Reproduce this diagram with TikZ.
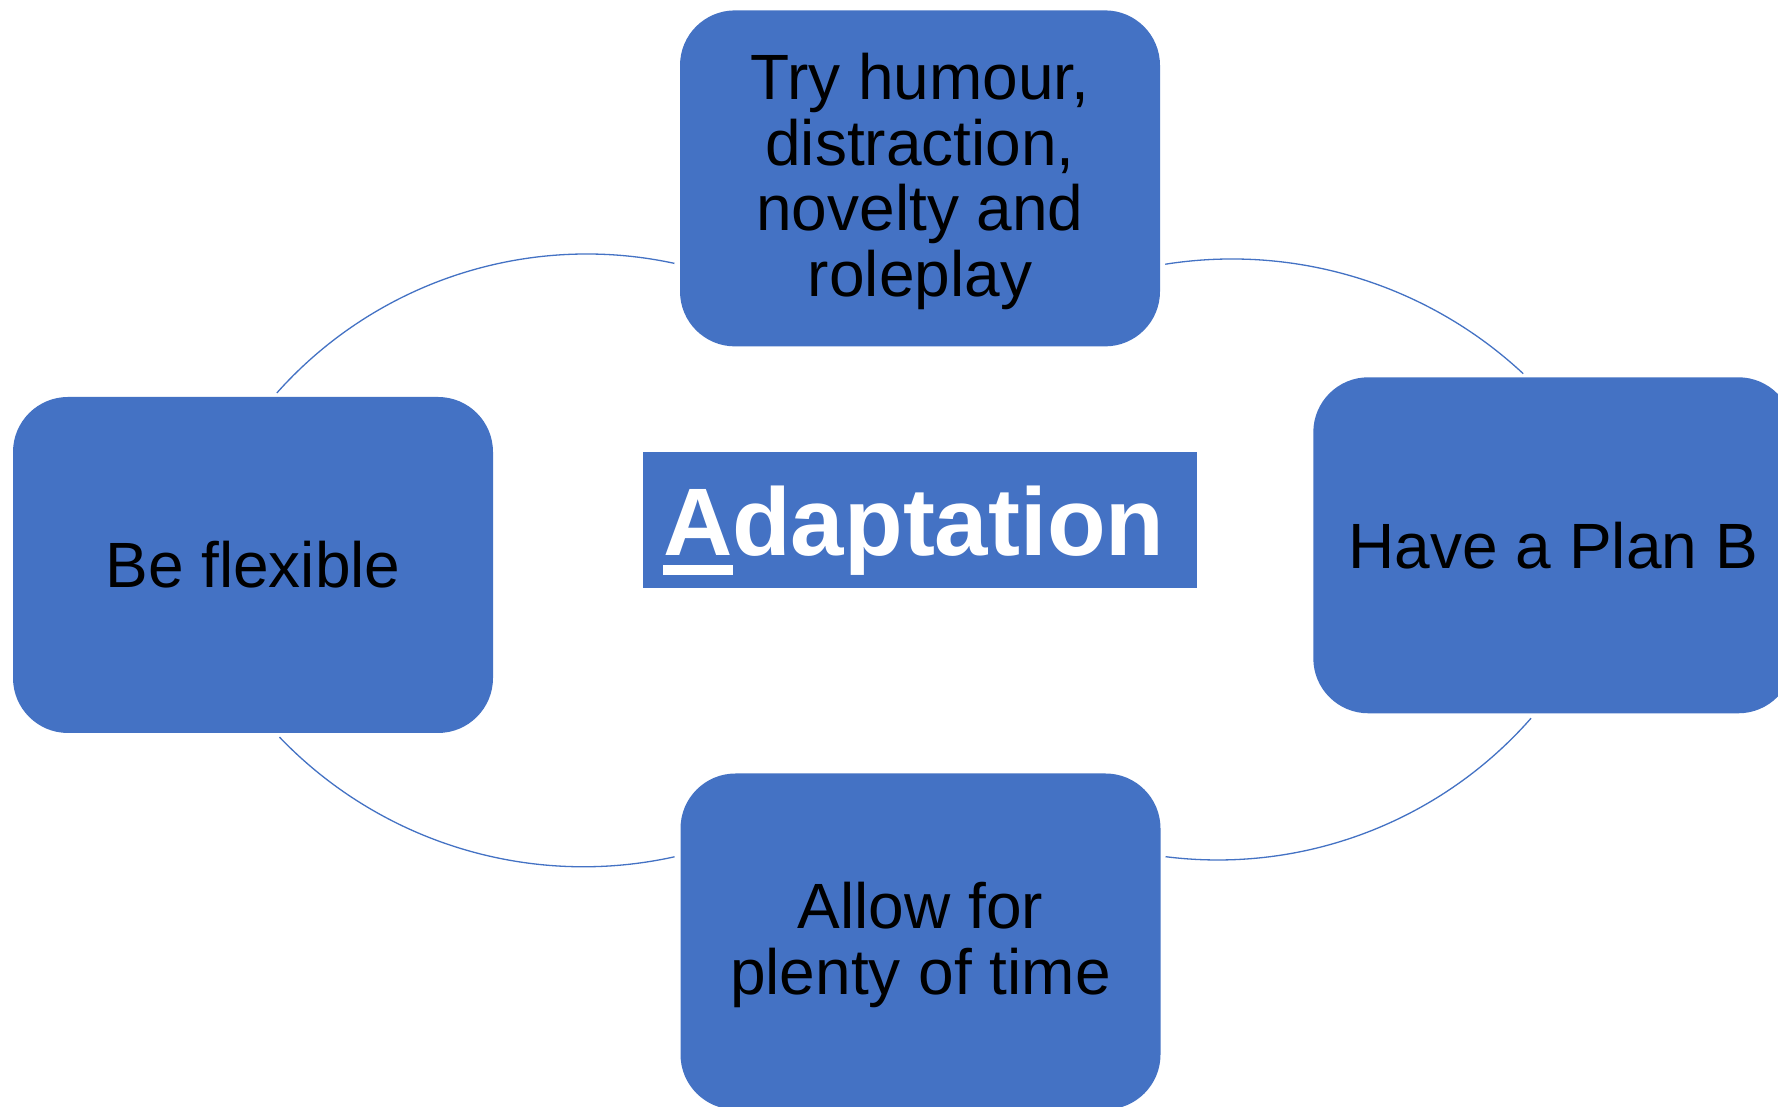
\documentclass[tikz,border=0pt]{standalone}
\usepackage{fontspec}
\setmainfont{Liberation Sans}
\definecolor{boxblue}{HTML}{4472C4}
\begin{document}
\begin{tikzpicture}[x=1pt,y=1pt,
  cyclebox/.style={fill=boxblue, rounded corners=55pt, minimum width=480pt,
    minimum height=336pt, inner sep=0pt, align=center, text=black,
    font=\fontsize{64}{65.8}\selectfont},
  arcline/.style={draw=boxblue, line width=1.3pt},
  titlebox/.style={fill=boxblue, text=white, inner xsep=20pt, inner ysep=0pt,
    text width=514pt, align=left, text height=104pt, text depth=32.6pt,
    font=\fontsize{96}{100}\selectfont\bfseries}]
\useasboundingbox (0,0) rectangle (1778,1107);
\fill[white] (0,0) rectangle (1778,1107);

% arc centres
\coordinate (ctl) at (586.7,438);
\coordinate (ctr) at (1232,421);
\coordinate (cbr) at (1217.8,664);
\coordinate (cbl) at (583.4,661.2);

% connecting arcs
\draw[arcline] (ctl) ++(138.3:415) arc[start angle=138.3, end angle=77.8, radius=415];
\draw[arcline] (ctr) ++(99.0:427) arc[start angle=99.0, end angle=47.0, radius=427];
\draw[arcline] (cbr) ++(-41.3:417) arc[start angle=-41.3, end angle=-97.2, radius=417];
\draw[arcline] (cbl) ++(-77.5:421) arc[start angle=-77.5, end angle=-136.2, radius=421];

% boxes
\node[cyclebox, text height=250pt] (top) at (920,928.6) {Try humour,\\distraction,\\novelty and\\roleplay};
\node[cyclebox] (left) at (253,542) {Be flexible};
\node[cyclebox] (right) at (1553.3,561.7) {Have a Plan B};
\node[cyclebox, text height=119pt] (bottom) at (920.5,165.5) {Allow for\\plenty of time};

% centre title
\node[titlebox] (title) at (920,587) {\noindent\rlap{\rule[-19.3pt]{70.3pt}{10pt}}Adaptation};
\end{tikzpicture}
\end{document}
